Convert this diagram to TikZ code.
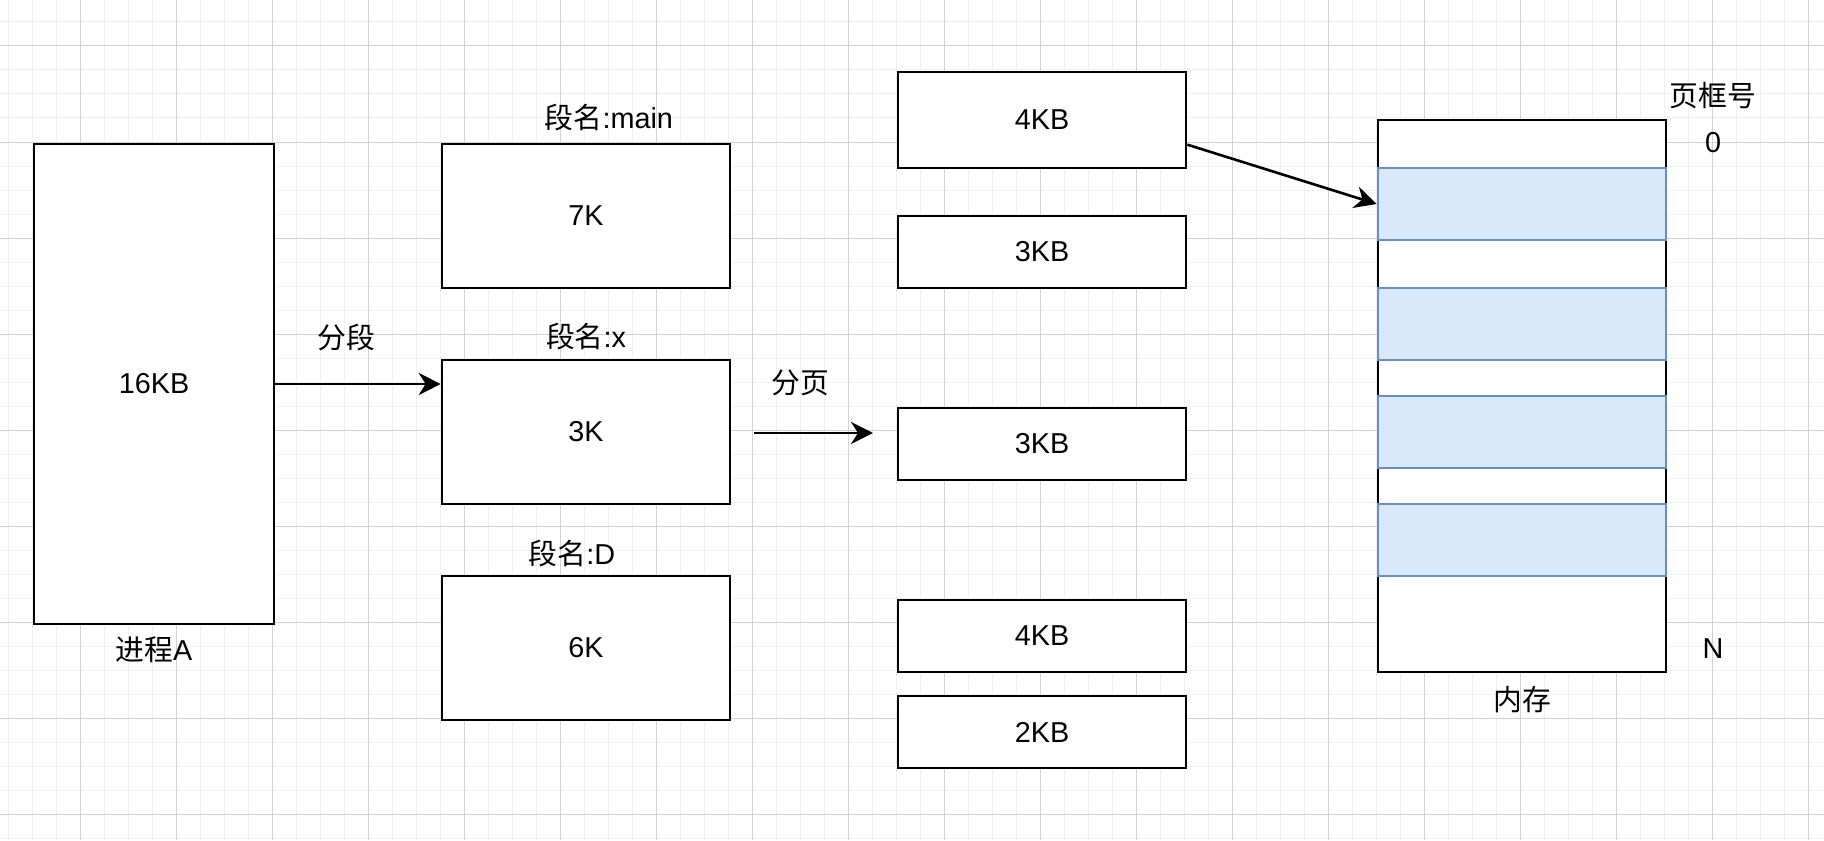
\documentclass[tikz,border=0pt]{standalone}
\usepackage{fontspec}
\setmainfont{Liberation Sans}
\newfontfamily\cjk{Noto Sans CJK SC}
\usetikzlibrary{positioning,calc,arrows.meta}
\definecolor{gridminor}{RGB}{240,240,240}
\definecolor{gridmajor}{RGB}{210,210,210}
\definecolor{framefill}{HTML}{DAE8FC}
\definecolor{frameline}{HTML}{6C8EBF}
\tikzstyle{block} = [rectangle, draw, line width=1.3pt, fill=white, minimum width=144pt, inner sep=0pt]
\tikzstyle{frame} = [rectangle, draw=frameline, line width=1.3pt, fill=framefill, minimum width=144pt, minimum height=36pt, inner sep=0pt]
\tikzstyle{caption} = [inner sep=0pt]
\tikzstyle{connector} = [line width=1.3pt,-{Stealth[length=11pt,width=11pt,inset=3.5pt]}]

\begin{document}
\begin{tikzpicture}[x=0.5pt, y=-0.5pt, every node/.style={font=\fontsize{14.4}{17}\selectfont}]
        \fill [white] (0,0) rectangle (1824,840);
        \useasboundingbox (0,0) rectangle (1824,840);
        % grid
        \foreach \x in {8,32,...,1816} \draw [gridminor, line width=0.5pt] (\x,0) -- (\x,840);
        \foreach \y in {22,46,...,838} \draw [gridminor, line width=0.5pt] (0,\y) -- (1824,\y);
        \foreach \x in {80,176,...,1808} \draw [gridmajor, line width=0.5pt] (\x,0) -- (\x,840);
        \foreach \y in {46,142,...,838} \draw [gridmajor, line width=0.5pt] (0,\y) -- (1824,\y);
        % process
        \node (proc) [block, minimum width=120pt, minimum height=240pt] at (154,384) {16KB};
        \node (proc-label) [caption, below=5.5pt of proc] {{\cjk 进程}A};
        % segments
        \node (seg-main) [block, minimum height=72pt] at (586,216) {7K};
        \node (seg-x) [block, minimum height=72pt] at (586,432) {3K};
        \node (seg-d) [block, minimum height=72pt] at (586,648) {6K};
        \node (seg-main-label) [caption] at (609,118) {{\cjk 段名}:main};
        \node (seg-x-label) [caption] at (586,337) {{\cjk 段名}:x};
        \node (seg-d-label) [caption] at (572,554) {{\cjk 段名}:D};
        \node (split-seg) [caption] at (346,338) {\cjk 分段};
        \node (split-page) [caption] at (800,383) {\cjk 分页};
        % pages
        \node (page-1) [block, minimum height=48pt] at (1042,120) {4KB};
        \node (page-2) [block, minimum height=36pt] at (1042,252) {3KB};
        \node (page-3) [block, minimum height=36pt] at (1042,444) {3KB};
        \node (page-4) [block, minimum height=36pt] at (1042,636) {4KB};
        \node (page-5) [block, minimum height=36pt] at (1042,732) {2KB};
        % memory
        \node (mem) [block, minimum height=276pt] at (1522,396) {};
        \node (frame-1) [frame] at (1522,204) {};
        \node (frame-2) [frame] at (1522,324) {};
        \node (frame-3) [frame] at (1522,432) {};
        \node (frame-4) [frame] at (1522,540) {};
        \node (mem-label) [caption, below=6.5pt of mem] {\cjk 内存};
        \node (frame-no) [caption] at (1713,96) {\cjk 页框号};
        \node (frame-first) [caption] at (1713,143) {0};
        \node (frame-last) [caption] at (1713,649) {N};
        % arrows
        \coordinate (page-from) at (754,433);
        \coordinate (page-to) at (873,433);
        \coordinate (page-1-out) at ($(page-1.north east)!0.75!(page-1.south east)$);
        \draw [connector] (proc.east) -- (proc.east -| seg-x.west);
        \draw [connector] (page-from) -- (page-to);
        \draw [connector] (page-1-out) -- (frame-1.west);
    \end{tikzpicture}
\end{document}
